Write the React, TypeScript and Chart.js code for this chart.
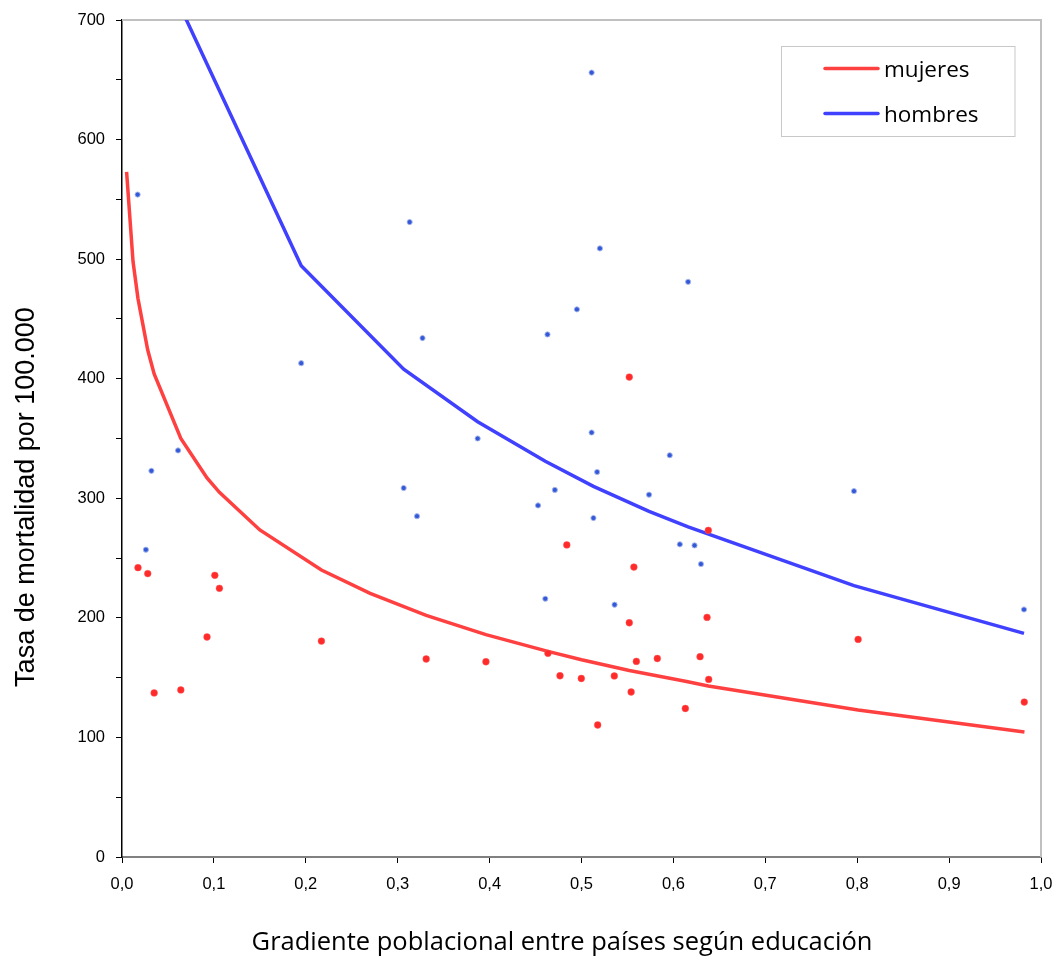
import React, { useEffect, useRef } from "react";
import { Chart, registerables } from "chart.js";

Chart.register(...registerables);

// Scatter points
const hombresX = [0.017, 0.195, 0.313, 0.327, 0.061, 0.032, 0.026, 0.3065, 0.321, 0.511, 0.52, 0.616, 0.495, 0.463, 0.387, 0.511, 0.596, 0.517, 0.471, 0.4527, 0.5735, 0.513, 0.607, 0.623, 0.63, 0.4606, 0.536, 0.7965, 0.9815];
const hombresY = [554, 413, 531, 434, 340, 323, 257, 308.6, 285, 656, 509, 481, 458, 437, 350, 355, 336, 322, 307, 294, 303, 283.5, 261.5, 260.6, 245, 216, 211, 306, 207];

const mujeresX = [0.0174, 0.028, 0.101, 0.106, 0.0925, 0.217, 0.331, 0.035, 0.064, 0.552, 0.638, 0.484, 0.557, 0.552, 0.6366, 0.396, 0.4635, 0.5597, 0.5825, 0.629, 0.4766, 0.4998, 0.5357, 0.6384, 0.554, 0.613, 0.5176, 0.801, 0.9818];
const mujeresY = [242, 237, 235.6, 224.7, 184, 180.6, 165.6, 137.2, 139.7, 401.4, 273.2, 261, 242.5, 195.9, 200.4, 163.3, 170.3, 163.6, 166, 167.5, 151.6, 149.3, 151.4, 148.5, 138, 124.2, 110.4, 182, 129.6];

// Trend curves
const curvaHombresX = [0.061, 0.195, 0.3065, 0.387, 0.4606, 0.513, 0.5735, 0.616, 0.7965, 0.9815];
const curvaHombresY = [715, 494.5, 408, 364, 331, 310, 289, 276, 227, 187];

const curvaMujeresX = [0.005, 0.012, 0.0174, 0.028, 0.035, 0.064, 0.0925, 0.106, 0.15, 0.217, 0.27, 0.331, 0.396, 0.4635, 0.5, 0.552, 0.613, 0.638, 0.801, 0.982];
const curvaMujeresY = [573, 498, 467, 424, 404, 350, 317, 305, 273.5, 240, 220.5, 202, 186, 172, 165, 156, 147, 143, 123, 104.5];

const xTickLabels = ["0,0", "0,1", "0,2", "0,3", "0,4", "0,5", "0,6", "0,7", "0,8", "0,9", "1,0"];
const legendLabels = ["mujeres", "hombres"];
const xTitle = "Gradiente poblacional entre países según educación";
const yTitle = "Tasa de mortalidad por 100.000";

const RED_LINE = "#ff4040";
const BLUE_LINE = "#4040ff";

const pts = (xs: number[], ys: number[]) => xs.map((x, i) => ({ x, y: ys[i] }));

const decorPlugin = {
  id: "decor",
  beforeDatasetsDraw(chart: any) {
    const { ctx, chartArea } = chart;
    ctx.save();
    ctx.strokeStyle = "#c0c0c0";
    ctx.lineWidth = 2;
    ctx.beginPath();
    ctx.moveTo(chartArea.left, chartArea.top);
    ctx.lineTo(chartArea.right, chartArea.top);
    ctx.lineTo(chartArea.right, chartArea.bottom);
    ctx.stroke();
    ctx.restore();
  },
  afterDraw(chart: any) {
    const { ctx } = chart;
    ctx.save();
    // axis titles
    ctx.fillStyle = "#000";
    ctx.font = '25.5px "Open Sans"';
    ctx.textAlign = "center";
    ctx.textBaseline = "alphabetic";
    ctx.fillText(xTitle, 562, 950);
    ctx.save();
    ctx.translate(34, 497);
    ctx.rotate(-Math.PI / 2);
    ctx.font = '27px "Liberation Sans"';
    ctx.fillText(yTitle, 0, 0);
    ctx.restore();

    // legend
    ctx.fillStyle = "#fff";
    ctx.fillRect(781.5, 46.5, 233.5, 90);
    ctx.strokeStyle = "#c8c8c8";
    ctx.lineWidth = 1;
    ctx.strokeRect(781.5, 46.5, 233.5, 90);
    const colors = [RED_LINE, BLUE_LINE];
    const ys = [68.5, 113.5];
    ctx.lineCap = "round";
    ctx.font = '22.5px "Open Sans"';
    ctx.textAlign = "left";
    ctx.textBaseline = "middle";
    legendLabels.forEach((lab, i) => {
      ctx.strokeStyle = colors[i];
      ctx.lineWidth = 3.5;
      ctx.beginPath();
      ctx.moveTo(825, ys[i]);
      ctx.lineTo(878, ys[i]);
      ctx.stroke();
      ctx.fillStyle = "#000";
      ctx.fillText(lab, 884, ys[i] + 2);
    });
    ctx.restore();
  },
};

export default function App() {
  const ref = useRef<HTMLCanvasElement>(null);
  useEffect(() => {
    if (!ref.current) return;
    const chart = new Chart(ref.current, {
      type: "scatter",
      data: {
        datasets: [
          {
            label: "hombres puntos",
            data: pts(hombresX, hombresY),
            pointRadius: 2.6,
            pointBackgroundColor: "#3358d8",
            pointBorderColor: "rgba(170,185,235,0.9)",
            pointBorderWidth: 1,
            showLine: false,
            order: 2,
          },
          {
            label: "mujeres puntos",
            data: pts(mujeresX, mujeresY),
            pointRadius: 3.4,
            pointBackgroundColor: "#ff2a2a",
            pointBorderColor: "rgba(255,90,90,0.9)",
            pointBorderWidth: 0.5,
            showLine: false,
            order: 1,
          },
          {
            label: "hombres",
            data: pts(curvaHombresX, curvaHombresY),
            showLine: true,
            borderColor: BLUE_LINE,
            borderWidth: 3.5,
            pointRadius: 0,
            tension: 0,
            order: 3,
          },
          {
            label: "mujeres",
            data: pts(curvaMujeresX, curvaMujeresY),
            showLine: true,
            borderColor: RED_LINE,
            borderWidth: 3.5,
            pointRadius: 0,
            tension: 0,
            order: 4,
          },
        ],
      },
      options: {
        animation: false,
        responsive: true,
        maintainAspectRatio: false,
        layout: { padding: { top: 20, right: 18, left: 0, bottom: 0 } },
        plugins: { legend: { display: false }, tooltip: { enabled: false } },
        scales: {
          x: {
            type: "linear",
            min: 0,
            max: 1,
            afterFit: (s: any) => {
              s.height = 99;
              s.paddingRight = 0;
              s.paddingLeft = 0;
            },
            afterBuildTicks: (s: any) => {
              s.ticks = xTickLabels.map((_, i) => ({ value: i / 10 }));
            },
            ticks: {
              autoSkip: false,
              maxRotation: 0,
              padding: 12,
              color: "#000",
              font: { family: "Liberation Sans", size: 16.5 },
              callback: (_v: any, i: number) => xTickLabels[i],
            },
            grid: { drawOnChartArea: false, drawTicks: true, tickLength: 6, color: "#000", tickColor: "#000" },
            border: { display: true, color: "#808080", width: 2 },
          },
          y: {
            type: "linear",
            min: 0,
            max: 700,
            afterFit: (s: any) => {
              s.width = 122;
              s.paddingTop = 0;
              s.paddingBottom = 0;
            },
            ticks: {
              stepSize: 50,
              autoSkip: false,
              padding: 11,
              color: "#000",
              font: { family: "Liberation Sans", size: 16.5 },
              callback: (v: any) => (Number(v) % 100 === 0 ? String(v) : ""),
            },
            grid: { drawOnChartArea: false, drawTicks: true, tickLength: 6, color: "#000", tickColor: "#000" },
            border: { display: true, color: "#000", width: 1.5 },
          },
        },
      },
      plugins: [decorPlugin],
    });
    return () => chart.destroy();
  }, []);
  return (
    <div style={{ position: "absolute", left: 0, top: 0, width: 1059, height: 956, background: "#fff" }}>
      <canvas ref={ref} />
    </div>
  );
}
